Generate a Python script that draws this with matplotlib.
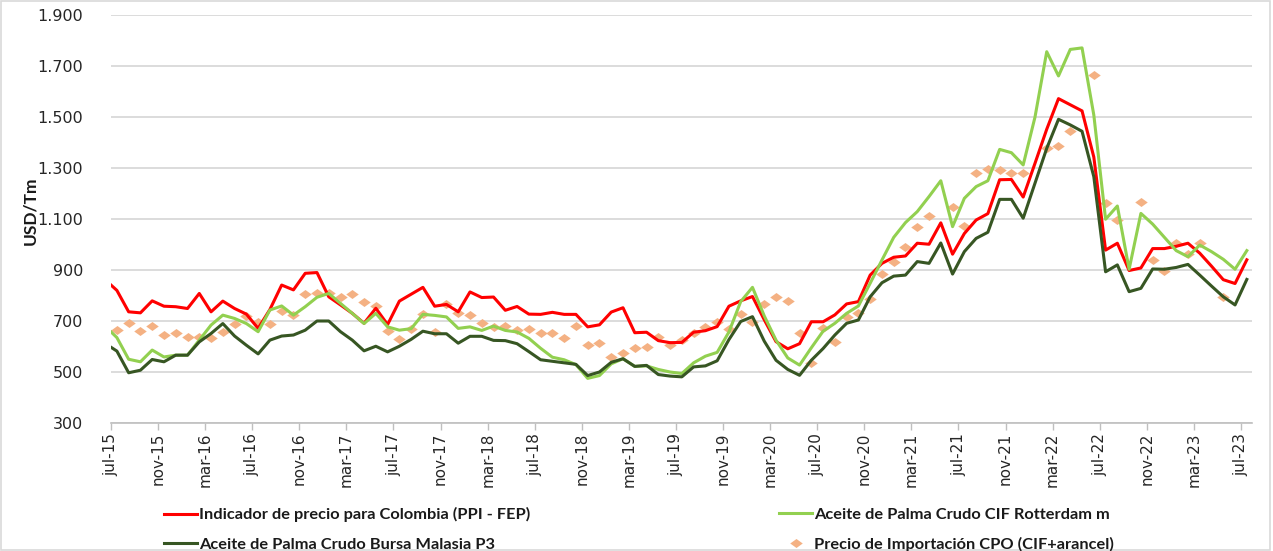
import numpy as np
import matplotlib
matplotlib.use("Agg")
import matplotlib.pyplot as plt
from matplotlib.path import Path
from matplotlib.patches import Rectangle

# Monthly series, jun-15 (partly visible at the left edge) to jul-23
ppi_fep = [862,
    820, 736, 732, 779, 758, 756, 749, 808, 736, 778, 749, 727,
    671, 745, 841, 822, 887, 890, 795, 763, 730, 691, 750, 686,
    778, 805, 832, 758, 765, 736, 814, 792, 794, 742, 757, 727,
    726, 734, 726, 726, 677, 685, 735, 752, 654, 656, 623, 615,
    616, 656, 662, 678, 758, 779, 796, 705, 619, 591, 611, 697,
    697, 724, 767, 776, 880, 926, 950, 955, 1005, 1001, 1085, 962,
    1043, 1096, 1121, 1254, 1255, 1186, 1318, 1452, 1572, 1548, 1524, 1343,
    978, 1005, 898, 908, 984, 984, 993, 1005, 966, 915, 862, 847,
    940]

cif_rotterdam = [680,
    635, 550, 540, 586, 559, 566, 566, 625, 684, 723, 710, 690,
    658, 743, 759, 723, 756, 793, 808, 769, 730, 690, 730, 677,
    664, 670, 726, 722, 716, 671, 677, 663, 680, 663, 657, 632,
    593, 558, 548, 529, 475, 486, 532, 552, 522, 524, 510, 500,
    494, 536, 562, 577, 657, 776, 832, 720, 625, 555, 527, 595,
    660, 691, 730, 759, 848, 939, 1028, 1086, 1129, 1188, 1250, 1070,
    1181, 1227, 1250, 1373, 1360, 1312, 1499, 1756, 1661, 1765, 1771, 1508,
    1099, 1151, 903, 1122, 1080, 1028, 976, 952, 998, 972, 942, 903,
    976]

bursa_malasia = [612,
    582, 497, 507, 549, 540, 566, 566, 618, 651, 690, 641, 605,
    571, 625, 641, 645, 664, 700, 700, 658, 625, 583, 601, 579,
    601, 628, 660, 650, 650, 613, 640, 640, 624, 623, 611, 580,
    548, 542, 536, 530, 486, 500, 538, 552, 522, 526, 490, 484,
    481, 520, 524, 544, 627, 698, 717, 621, 546, 510, 487, 546,
    592, 645, 691, 704, 795, 850, 876, 880, 933, 926, 1006, 884,
    972, 1024, 1048, 1177, 1177, 1103, 1240, 1377, 1491, 1469, 1444, 1266,
    893, 920, 815, 828, 904, 903, 910, 922, 880, 837, 795, 763,
    863]

nan = np.nan
import_cpo = [nan,
    666, 692, 661, 680, 646, 653, 639, 639, 634, 657, 687, 718,
    696, 687, 739, 722, 805, 811, 808, 795, 805, 775, 758, 661,
    629, 670, 729, 657, 766, 730, 722, 692, 676, 679, 663, 670,
    652, 652, 632, 680, 606, 612, 558, 573, 593, 599, 637, 604,
    624, 652, 678, 698, 670, 728, 696, 767, 794, 779, 652, 537,
    674, 619, 717, 730, 785, 883, 933, 989, 1067, 1112, nan, 1149,
    1073, 1282, 1295, 1292, 1282, 1282, nan, 1377, 1388, 1446, nan, 1665,
    1161, 1096, nan, 1168, 939, 897, 1005, 961, 1005, nan, 795, nan,
    nan]

tick_labels = ["jul-15", "nov-15", "mar-16", "jul-16", "nov-16", "mar-17", "jul-17",
               "nov-17", "mar-18", "jul-18", "nov-18", "mar-19", "jul-19", "nov-19",
               "mar-20", "jul-20", "nov-20", "mar-21", "jul-21", "nov-21", "mar-22",
               "jul-22", "nov-22", "mar-23", "jul-23"]

series_names = ["Indicador de precio para Colombia (PPI - FEP)",
                "Aceite de Palma Crudo CIF Rotterdam m",
                "Aceite de Palma Crudo Bursa Malasia P3",
                "Precio de Importación CPO (CIF+arancel)"]

# month index: tick at start of month, data point mid-month
x = np.arange(len(ppi_fep)) - 1 + 0.5
tick_pos = np.arange(len(tick_labels)) * 4

W, H = 1273, 551
fig = plt.figure(figsize=(W / 100, H / 100), dpi=100)
fig.patch.set_facecolor("white")
ax = fig.add_axes([111 / W, 1 - 423 / H, (1252 - 111) / W, (423 - 15) / H])

diamond = Path([(-1, 0), (0, 0.72), (1, 0), (0, -0.72), (-1, 0)],
               [Path.MOVETO, Path.LINETO, Path.LINETO, Path.LINETO, Path.CLOSEPOLY])

l_cpo, = ax.plot(x, import_cpo, linestyle="none", marker=diamond, markersize=9,
                 color="#F4B183", markeredgewidth=0, label=series_names[3], zorder=2)
l_ppi, = ax.plot(x, ppi_fep, color="#FF0000", lw=2.2, label=series_names[0], zorder=3)
l_rot, = ax.plot(x, cif_rotterdam, color="#92D050", lw=2.2, label=series_names[1], zorder=3)
l_bur, = ax.plot(x, bursa_malasia, color="#375623", lw=2.2, label=series_names[2], zorder=3)

ax.set_xlim(0, 96.94)
ax.set_ylim(300, 1900)
ax.set_yticks(np.arange(300, 1901, 200))
ax.set_yticklabels([f"{v:,}".replace(",", ".") for v in range(300, 1901, 200)])
ax.set_xticks(tick_pos)
ax.set_xticklabels(tick_labels, rotation=90)

for s in ["top", "right", "left"]:
    ax.spines[s].set_visible(False)
ax.spines["bottom"].set_color("#bfbfbf")
ax.spines["bottom"].set_linewidth(1.2)

ax.grid(axis="y", color="#d9d9d9", lw=1.3, zorder=0)
ax.set_axisbelow(True)
ax.tick_params(axis="y", length=0, pad=20, labelsize=11.5, labelcolor="#262626")
ax.tick_params(axis="x", length=5, width=1, color="#bfbfbf", pad=2,
               labelsize=11, labelcolor="#262626")

ax.set_ylabel("USD/Tm", fontsize=12.5, fontweight="bold", color="#1a1a1a",
              family="Lato")
ax.yaxis.set_label_coords(-0.064, 0.52)

leg_font = {"family": "Lato", "weight": "bold", "size": 11.8}
leg1 = fig.legend(handles=[l_ppi, l_bur], loc="center left",
                  bbox_to_anchor=(156 / W, 1 - 529.5 / H), frameon=False,
                  prop=leg_font, handlelength=2.0, handletextpad=0.15,
                  labelspacing=0.9, borderpad=0)
leg2 = fig.legend(handles=[l_rot, l_cpo], loc="center left",
                  bbox_to_anchor=(771 / W, 1 - 529.5 / H), frameon=False,
                  prop=leg_font, handlelength=2.0, handletextpad=0.15,
                  labelspacing=0.9, borderpad=0)
for lg in (leg1, leg2):
    for t in lg.get_texts():
        t.set_color("#1a1a1a")

fig.patches.append(Rectangle((0.001, 0.002), 0.997, 0.996, transform=fig.transFigure,
                             fill=False, edgecolor="#d9d9d9", lw=1.2))

fig.savefig("out.png", dpi=100, facecolor="white")
